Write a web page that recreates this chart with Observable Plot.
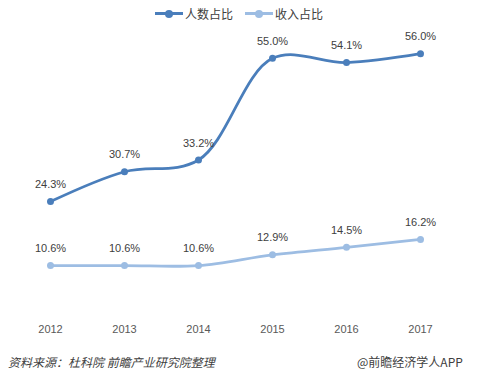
<!DOCTYPE html>
<html>
<head>
<meta charset="utf-8">
<script src="https://cdn.jsdelivr.net/npm/d3@7"></script>
<script src="https://cdn.jsdelivr.net/npm/@observablehq/plot@0.6"></script>
<style>
  body { margin: 0; background: #fff; }
  #wrap { position: relative; width: 495px; height: 381px; font-family: "Noto Sans CJK SC", "Liberation Sans", sans-serif; }
  #legend { position: absolute; top: 5px; left: 155px; display: flex; align-items: center; font-size: 12px; color: #404040; }
  .item { display: flex; align-items: center; margin-right: 12px; }
  .sw { position: relative; width: 28px; height: 3px; margin-right: 2px; }
  .sw i { position: absolute; left: 10px; top: -2.5px; width: 8px; height: 8px; border-radius: 50%; }
  #src { position: absolute; left: 8px; top: 353px; font-size: 12px; font-style: italic; color: #404040; }
  #brand { position: absolute; left: 357px; top: 353px; font-size: 12px; color: #404040; }
</style>
</head>
<body>
<div id="wrap">
  <div id="chart"></div>
  <div id="legend"></div>
  <div id="src">资料来源：杜科院 前瞻产业研究院整理</div>
  <div id="brand">@前瞻经济学人APP</div>
</div>
<script>
const years = ["2012", "2013", "2014", "2015", "2016", "2017"];
const peopleShare = [24.3, 30.7, 33.2, 55.0, 54.1, 56.0];
const incomeShare = [10.6, 10.6, 10.6, 12.9, 14.5, 16.2];
const seriesNames = ["人数占比", "收入占比"];
const seriesColors = ["#4a7ebb", "#9dbde3"];

const data = [];
years.forEach((y, i) => {
  data.push({year: y, value: peopleShare[i], series: seriesNames[0]});
  data.push({year: y, value: incomeShare[i], series: seriesNames[1]});
});

const chart = Plot.plot({
  width: 495,
  height: 381,
  marginTop: 34.5,
  marginBottom: 66.5,
  marginLeft: 49,
  marginRight: 74,
  style: {fontFamily: "'Liberation Sans', sans-serif", fontSize: "11px", color: "#595959", background: "#fff"},
  x: {type: "point", domain: years, padding: 0, label: null, tickSize: 0, tickPadding: 10},
  y: {domain: [0, 60], axis: null},
  color: {domain: seriesNames, range: seriesColors},
  marks: [
    Plot.line(data, {x: "year", y: "value", z: "series", stroke: "series", strokeWidth: 2.8, curve: "catmull-rom"}),
    Plot.dot(data, {x: "year", y: "value", fill: "series", r: 3.5}),
    Plot.text(data, {x: "year", y: "value", text: d => d.value.toFixed(1) + "%", dy: -17, fill: "#404040", fontSize: 11})
  ]
});
document.getElementById("chart").appendChild(chart);

const legend = document.getElementById("legend");
seriesNames.forEach((name, i) => {
  const item = document.createElement("div");
  item.className = "item";
  item.innerHTML = `<span class="sw" style="background:${seriesColors[i]}"><i style="background:${seriesColors[i]}"></i></span><span>${name}</span>`;
  legend.appendChild(item);
});
</script>
</body>
</html>
